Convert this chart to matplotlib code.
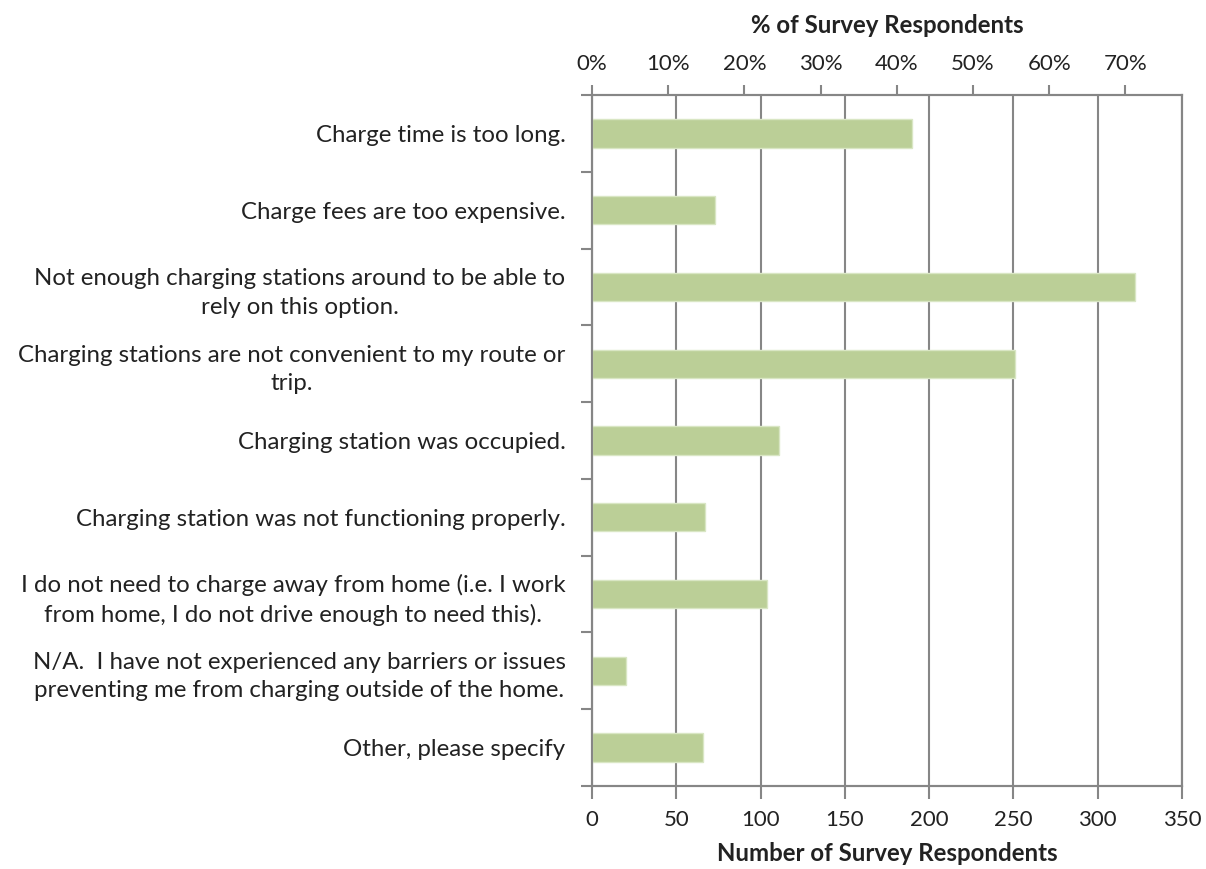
import matplotlib
matplotlib.use("Agg")
import matplotlib.pyplot as plt
import numpy as np

categories = [
    "Charge time is too long.",
    "Charge fees are too expensive.",
    "Not enough charging stations around to be able to\nrely on this option.",
    "Charging stations are not convenient to my route or\ntrip.",
    "Charging station was occupied.",
    "Charging station was not functioning properly.",
    "I do not need to charge away from home (i.e. I work\nfrom home, I do not drive enough to need this).",
    "N/A.  I have not experienced any barriers or issues\npreventing me from charging outside of the home.",
    "Other, please specify",
]
counts = [190, 73, 322, 251, 111, 67, 104, 20, 66]
total_respondents = 452
count_ticks = [0, 50, 100, 150, 200, 250, 300, 350]
pct_ticks = [0, 10, 20, 30, 40, 50, 60, 70]

plt.rcParams['font.family'] = ['Lato', 'DejaVu Sans']
grey = '#868686'
text_c = '#222222'
bar_c = '#bbcf97'

fig = plt.figure(figsize=(12.06, 8.69), dpi=100)
ax = fig.add_axes([592/1206, 1-786/869, 590/1206, 691/869])

y = np.arange(len(categories))
ax.barh(y, counts, height=0.37, color=bar_c, edgecolor='#d9e6c4', linewidth=1, zorder=3)
ax.set_ylim(len(categories)-0.5, -0.5)
ax.set_xlim(0, 350)
ax.set_xticks(count_ticks)
ax.set_xticklabels([str(t) for t in count_ticks], fontsize=16, color=text_c)
ax.xaxis.grid(True, color=grey, linewidth=1.5, zorder=1)
ax.set_yticks(y)
ax.set_yticklabels(categories, fontsize=17.3, color=text_c, multialignment='center',
                   linespacing=1.45)
ax.set_yticks(np.arange(len(categories)+1)-0.5, minor=True)
ax.tick_params(axis='y', which='major', length=0, pad=19)
ax.tick_params(axis='y', which='minor', length=8, width=1.5, color=grey, direction='out')
ax.tick_params(axis='x', length=9, width=1.5, color=grey, direction='out', pad=8)
for s in ax.spines.values():
    s.set_color(grey)
    s.set_linewidth(1.5)
ax.set_xlabel("Number of Survey Respondents", fontsize=17.3, fontweight='bold', color=text_c, labelpad=9)

ax2 = ax.twiny()
ax2.set_xlim(0, 350/total_respondents*100)
ax2.set_xticks(pct_ticks)
ax2.set_xticklabels([f"{t}%" for t in pct_ticks], fontsize=16, color=text_c)
ax2.tick_params(axis='x', length=7, width=1.5, color=grey, direction='out', pad=8)
for s in ax2.spines.values():
    s.set_color(grey)
    s.set_linewidth(1.5)
ax2.set_xlabel("% of Survey Respondents", fontsize=17.3, fontweight='bold', color=text_c, labelpad=15)

fig.savefig("out.png", dpi=100, facecolor='white')
